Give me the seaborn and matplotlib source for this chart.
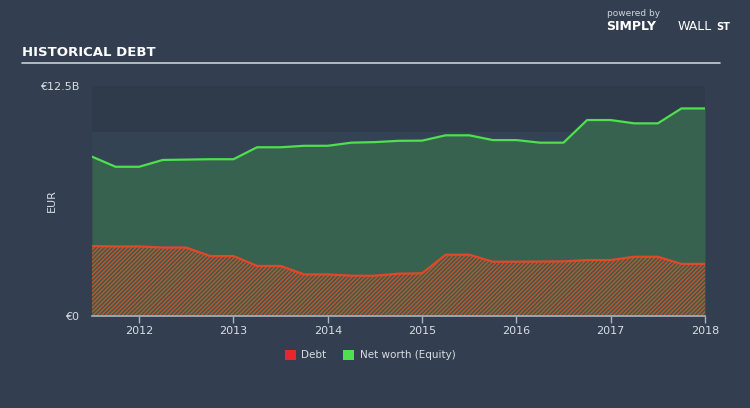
import matplotlib
matplotlib.use("Agg")
import matplotlib.pyplot as plt
import seaborn as sns
import pandas as pd
import numpy as np
from matplotlib import font_manager

# ---- data (EUR billions) ----
dates = [2011.50, 2011.75, 2012.00, 2012.25, 2012.50, 2012.75, 2013.00, 2013.25, 2013.50,
         2013.75, 2014.00, 2014.25, 2014.50, 2014.75, 2015.00, 2015.25, 2015.50, 2015.75,
         2016.00, 2016.25, 2016.50, 2016.75, 2017.00, 2017.25, 2017.50, 2017.75, 2018.00]
net_worth = [8.66, 8.11, 8.11, 8.48, 8.50, 8.52, 8.52, 9.17, 9.17,
             9.25, 9.25, 9.42, 9.45, 9.52, 9.53, 9.82, 9.82, 9.56,
             9.56, 9.42, 9.42, 10.65, 10.65, 10.47, 10.47, 11.28, 11.28]
debt = [3.80, 3.78, 3.78, 3.72, 3.72, 3.26, 3.26, 2.72, 2.72,
        2.26, 2.26, 2.19, 2.19, 2.30, 2.32, 3.33, 3.33, 2.95,
        2.95, 2.96, 2.97, 3.04, 3.04, 3.22, 3.22, 2.83, 2.83]
year_ticks = [2012, 2013, 2014, 2015, 2016, 2017, 2018]
y_ticks = [0, 12.5]
y_tick_labels = ["€0", "€12.5B"]
legend_labels = ["Debt", "Net worth (Equity)"]

BG = "#333f50"
GREEN_LINE = "#4ee04e"
GREEN_FILL = "#37624f"
RED_LINE = "#e0482a"
TXT = "#d9dde2"

sns.set_theme(style="dark")
plt.rcParams["font.family"] = ["DejaVu Sans"]
plt.rcParams["hatch.linewidth"] = 0.9

names = {f.name for f in font_manager.fontManager.ttflist}
title_family = "Liberation Sans Narrow" if "Liberation Sans Narrow" in names else "DejaVu Sans"

df = pd.DataFrame({"date": dates, "net": net_worth, "debt": debt})

fig = plt.figure(figsize=(7.5, 4.08), dpi=100, facecolor=BG)
ax = fig.add_axes([92/750, 1-316/408, (705-92)/750, (316-86)/408])
ax.set_facecolor("#344354")
ax.axhspan(10, 12.5, color="#2f3b4b", zorder=0, lw=0)

ax.fill_between(df["date"], 0, df["net"], color=GREEN_FILL, lw=0, zorder=1)
ax.fill_between(df["date"], 0, df["debt"], facecolor="#3f5c4a", edgecolor="#c8552f",
                hatch="////////", lw=0, zorder=2)
sns.lineplot(data=df, x="date", y="net", ax=ax, color=GREEN_LINE, lw=1.6, zorder=3)
sns.lineplot(data=df, x="date", y="debt", ax=ax, color=RED_LINE, lw=1.6, zorder=3)

ax.set_xlim(2011.5, 2018.0)
ax.set_ylim(0, 12.5)
ax.set_xticks(year_ticks)
ax.set_xticklabels([str(y) for y in year_ticks], color=TXT, fontsize=8)
ax.set_yticks(y_ticks)
ax.set_yticklabels(y_tick_labels, color=TXT, fontsize=8)
ax.tick_params(axis="x", length=5, width=1, color="#aab2bc", pad=2, bottom=True)
ax.tick_params(axis="y", length=0, pad=9)
ax.set_xlabel("")
ax.set_ylabel("")
for s in ["top", "right", "left"]:
    ax.spines[s].set_visible(False)
ax.spines["bottom"].set_color("#aab2bc")
ax.spines["bottom"].set_linewidth(1.2)
ax.grid(False)

fig.text(52/750, 1-201/408, "EUR", color=TXT, fontsize=8, rotation=90, va="center", ha="center")

# title and rule
fig.text(22/750, 1-52/408, "HISTORICAL DEBT", color="white", fontsize=9.5,
         fontweight="bold", family=title_family, va="center", ha="left")
fig.add_artist(plt.Line2D([22/750, 720/750], [1-63/408, 1-63/408],
                          color="#c9ced5", lw=1.2, transform=fig.transFigure))

# logo text
fig.text(607/750, 1-14/408, "powered by", color="#d0d4da", fontsize=6.5, va="center", ha="left")
fig.text(606/750, 1-27/408, "SIMPLY", color="white", fontsize=9, fontweight="bold", va="center", ha="left")
fig.text(678/750, 1-27/408, "WALL", color="white", fontsize=9, va="center", ha="left")
fig.text(716/750, 1-27/408, "ST", color="white", fontsize=7, fontweight="bold", va="center", ha="left")

# legend
from matplotlib.patches import Patch
handles = [Patch(facecolor="#e8262b", edgecolor="none"), Patch(facecolor=GREEN_LINE, edgecolor="none")]
fig.legend(handles, legend_labels, loc="center", bbox_to_anchor=(370/750, 1-355/408), ncol=2,
           frameon=False, fontsize=7.5, labelcolor=TXT, handlelength=1.1, handleheight=1.1,
           columnspacing=1.6, handletextpad=0.5)

fig.savefig("out.png", dpi=100, facecolor=BG)
